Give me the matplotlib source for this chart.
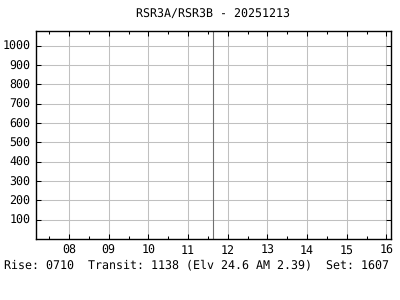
import matplotlib
matplotlib.use("Agg")
import matplotlib.pyplot as plt
from matplotlib.ticker import MultipleLocator

title = "RSR3A/RSR3B - 20251213"
hours = [8, 9, 10, 11, 12, 13, 14, 15, 16]
hour_labels = ["08", "09", "10", "11", "12", "13", "14", "15", "16"]
y_ticks = [100, 200, 300, 400, 500, 600, 700, 800, 900, 1000]
rise_time = 7 + 10 / 60
transit_time = 11 + 38 / 60
set_time = 16 + 7 / 60
footer = "Rise: 0710  Transit: 1138 (Elv 24.6 AM 2.39)  Set: 1607"

plt.rcParams['font.family'] = ['DejaVu Sans Mono']
plt.rcParams['text.hinting'] = 'no_hinting'
fs = 8.35

fig = plt.figure(figsize=(4, 3), dpi=100)
ax = fig.add_axes([36 / 400, 1 - 239 / 300, (391 - 36) / 400, (239 - 31) / 300])

ax.set_xlim(rise_time, set_time)
ax.set_ylim(0, 1075)

ax.set_xticks(hours)
ax.set_xticklabels(hour_labels)
ax.set_yticks(y_ticks)
ax.xaxis.set_minor_locator(MultipleLocator(0.5))

ax.grid(True, which='major', color='#c0c0c0', linewidth=0.75)
ax.set_axisbelow(True)

ax.axvline(transit_time, color='#707070', linewidth=0.8)

ax.tick_params(which='major', direction='in', length=3.6, width=0.75, top=True, right=True,
               labelsize=fs, pad=4, colors='black')
ax.tick_params(which='minor', direction='in', length=2.2, width=0.75, top=True, right=False)
ax.tick_params(axis='y', which='minor', left=False, right=False)

for s in ax.spines.values():
    s.set_linewidth(1)
    s.set_color('black')

fig.text(213.5 / 400, 1 - 14.5 / 300, title, ha='center', va='center', fontsize=fs)
fig.text(4 / 400, 1 - 265 / 300, footer, ha='left', va='center', fontsize=fs)

fig.savefig("out.png", dpi=100)
